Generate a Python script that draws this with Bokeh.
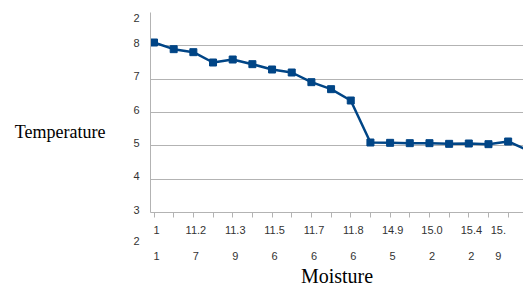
from bokeh.plotting import figure
from bokeh.models import Range1d, FixedTicker, LinearAxis
from bokeh.embed import file_html
from bokeh.resources import INLINE

# ---- data ----
category_index = list(range(20))
temperature = [8.10, 7.90, 7.81, 7.50, 7.59, 7.45, 7.29, 7.20, 6.91, 6.70,
               6.36, 5.10, 5.09, 5.08, 5.08, 5.06, 5.07, 5.05, 5.13, 4.87]
moisture_labels = ["1\n\n1", "11.2\n\n7", "11.3\n\n9", "11.5\n\n6", "11.7\n\n6",
                   "11.8\n\n6", "14.9\n\n5", "15.0\n\n2", "15.4\n\n2", "15.\n\n9"]
moisture_label_pos = [0.13, 2.13, 4.13, 6.13, 8.13, 10.13, 12.13, 14.13, 16.13, 17.5]
grid_ticks = [3, 4, 5, 6, 7, 8, 9]
y_label_pos = [3.09, 4.09, 5.09, 6.09, 7.09, 8.09, 8.835, 3.0001]
y_label_text = ["3", "4", "5", "6", "7", "8", "2", "\n\n\n\n2"]

LINE = "#004586"
GRID = "#b3b3b3"
TXT = "#333333"
SANS = "Liberation Sans"
SERIF = "Liberation Serif"

p = figure(width=523, height=289, output_backend="svg", toolbar_location=None,
           x_range=Range1d(-0.178, 18.78), y_range=Range1d(3, 9),
           x_axis_location=None,
           min_border_left=150, min_border_right=0, min_border_top=12,
           min_border_bottom=77)
p.outline_line_color = None
p.background_fill_color = "white"
p.border_fill_color = "white"

p.xgrid.grid_line_color = None
p.ygrid.ticker = FixedTicker(ticks=grid_ticks)
p.ygrid.grid_line_color = GRID
p.ygrid.grid_line_width = 1

# x axis 1: axis line and a tick mark at every category
xa = LinearAxis(ticker=FixedTicker(ticks=category_index))
xa.major_label_overrides = {i: "" for i in category_index}
xa.major_label_text_font_size = "0px"
xa.major_label_standoff = 0
xa.axis_line_color = GRID
xa.major_tick_line_color = GRID
xa.major_tick_out = 5
xa.major_tick_in = 0
xa.minor_tick_line_color = None
p.add_layout(xa, "below")

# x axis 2: category labels and the axis title
xb = LinearAxis(ticker=FixedTicker(ticks=moisture_label_pos))
xb.major_label_overrides = dict(zip(moisture_label_pos, moisture_labels))
xb.axis_line_color = None
xb.major_tick_line_color = None
xb.major_tick_out = 0
xb.major_tick_in = 0
xb.minor_tick_line_color = None
xb.major_label_text_font = SANS
xb.major_label_text_font_size = "11px"
xb.major_label_text_color = TXT
xb.major_label_text_line_height = 1.1
xb.major_label_standoff = 6
xb.axis_label = "Moisture"
xb.axis_label_text_font = SERIF
xb.axis_label_text_font_size = "20px"
xb.axis_label_text_font_style = "normal"
xb.axis_label_text_color = "black"
xb.axis_label_standoff = 0
p.add_layout(xb, "below")

# y axis
ya = p.yaxis[0]
ya.ticker = FixedTicker(ticks=y_label_pos)
ya.major_label_overrides = dict(zip(y_label_pos, y_label_text))
ya.axis_line_color = GRID
ya.major_tick_line_color = None
ya.minor_tick_line_color = None
ya.major_label_text_font = SANS
ya.major_label_text_font_size = "11px"
ya.major_label_text_color = TXT
ya.major_label_standoff = 5
ya.axis_label = "\nTemperature"
ya.axis_label_orientation = "horizontal"
ya.axis_label_text_font = SERIF
ya.axis_label_text_font_size = "18px"
ya.axis_label_text_font_style = "normal"
ya.axis_label_text_color = "black"
ya.axis_label_text_line_height = 1.9
ya.axis_label_standoff = 25

p.line(category_index, temperature, line_color=LINE, line_width=2.5)
p.scatter(category_index, temperature, marker="square", size=7,
          fill_color=LINE, line_color=LINE)

open("out.html", "w").write(file_html(p, INLINE))
